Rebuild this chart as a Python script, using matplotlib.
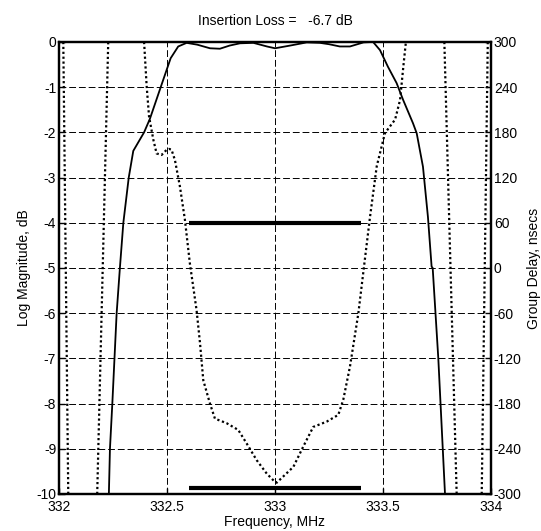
import numpy as np
import matplotlib.pyplot as plt

plt.rcParams['font.family'] = ['Liberation Sans', 'DejaVu Sans']
plt.rcParams['font.size'] = 10
plt.rcParams['axes.unicode_minus'] = False

# === DATA ===
# magnitude response, dB
mag_freq = [332.231, 332.236, 332.247, 332.267, 332.282, 332.298, 332.323, 332.344,
            332.394, 332.421, 332.471, 332.517, 332.552, 332.591, 332.64, 332.699,
            332.745, 332.79, 332.838, 332.9, 332.963, 333.0, 333.07, 333.147,
            333.208, 333.25, 333.30, 333.347, 333.41, 333.454, 333.486, 333.523,
            333.563, 333.593, 333.639, 333.656, 333.685, 333.708, 333.725, 333.73,
            333.756, 333.787]
mag_db = [-10.0, -9.0, -8.0, -6.0, -5.0, -4.0, -3.0, -2.41,
          -2.0, -1.7, -1.0, -0.36, -0.1, -0.02, -0.06, -0.14,
          -0.15, -0.08, -0.03, -0.02, -0.1, -0.14, -0.08, -0.01,
          -0.02, -0.05, -0.1, -0.1, -0.01, 0.0, -0.18, -0.55,
          -0.91, -1.28, -1.8, -2.02, -2.76, -3.87, -4.97, -5.0,
          -7.0, -10.0]

# group delay, nsecs (separate branches, out-of-range parts are clipped)
gd_branches = [
    ([332.020, 332.043], [300, -300]),
    ([332.177, 332.228], [-300, 300]),
    ([332.394, 332.406, 332.417, 332.437, 332.452, 332.475, 332.499, 332.51,
      332.521, 332.537, 332.56, 332.583, 332.606, 332.637, 332.653, 332.668,
      332.699, 332.722, 332.776, 332.83, 332.869, 332.915, 332.962, 333.0,
      333.008, 333.085, 333.131, 333.177, 333.239, 333.293, 333.316, 333.347,
      333.386, 333.41, 333.44, 333.471, 333.509, 333.556, 333.579, 333.594,
      333.606],
     [300, 241, 201, 170, 152, 150, 157, 158,
      157, 143, 108, 64, 6, -56, -100, -149,
      -180, -200, -206, -215, -233, -255, -273, -284,
      -285, -264, -237, -211, -204, -195, -175, -131,
      -60, -3, 68, 135, 179, 197, 223, 267,
      300]),
    ([333.784, 333.841], [300, -300]),
    ([333.957, 333.985], [-300, 300]),
]

# passband spec masks
mask_freq = [332.6, 333.4]
mask_upper = -4.0
mask_lower = -9.86

insertion_loss = -6.7

# === PLOT ===
fig = plt.figure(figsize=(5.41, 5.31), dpi=100)
ax = fig.add_axes([0.109, 0.0697, 0.7986, 0.8513])
ax2 = ax.twinx()

ax.plot(mag_freq, mag_db, color='black', lw=1.3, zorder=4)
ax.plot(mask_freq, [mask_upper, mask_upper], color='black', lw=3, solid_capstyle='butt', zorder=4)
ax.plot(mask_freq, [mask_lower, mask_lower], color='black', lw=3, solid_capstyle='butt', zorder=4)

for f, g in gd_branches:
    ax2.plot(f, g, color='black', lw=1.6, linestyle=(0, (1, 1.2)))

ax.set_xlim(332, 334)
ax.set_ylim(-10, 0)
ax2.set_ylim(-300, 300)

ax.set_xticks([332, 332.5, 333, 333.5, 334])
ax.set_xticklabels(['332', '332.5', '333', '333.5', '334'])
ax.set_yticks(range(-10, 1))
ax2.set_yticks(range(-300, 301, 60))

ax.grid(True, color='black', lw=0.7, linestyle=(0, (7, 3)))
ax.tick_params(axis='y', direction='in', length=4, width=1, pad=2, labelsize=10)
ax.tick_params(axis='x', direction='in', length=4, width=1, pad=4, labelsize=10)
ax2.tick_params(direction='in', length=4, width=1, pad=2, labelsize=10)

for a in (ax, ax2):
    for s in a.spines.values():
        s.set_linewidth(1.6)

ax.set_xlabel('Frequency, MHz', labelpad=1)
ax.set_ylabel('Log Magnitude, dB', labelpad=4)
ax2.set_ylabel('Group Delay, nsecs', labelpad=4)
ax.set_title(f'Insertion Loss =   {insertion_loss} dB', fontsize=10, pad=12)

fig.savefig('out.png', dpi=100)
